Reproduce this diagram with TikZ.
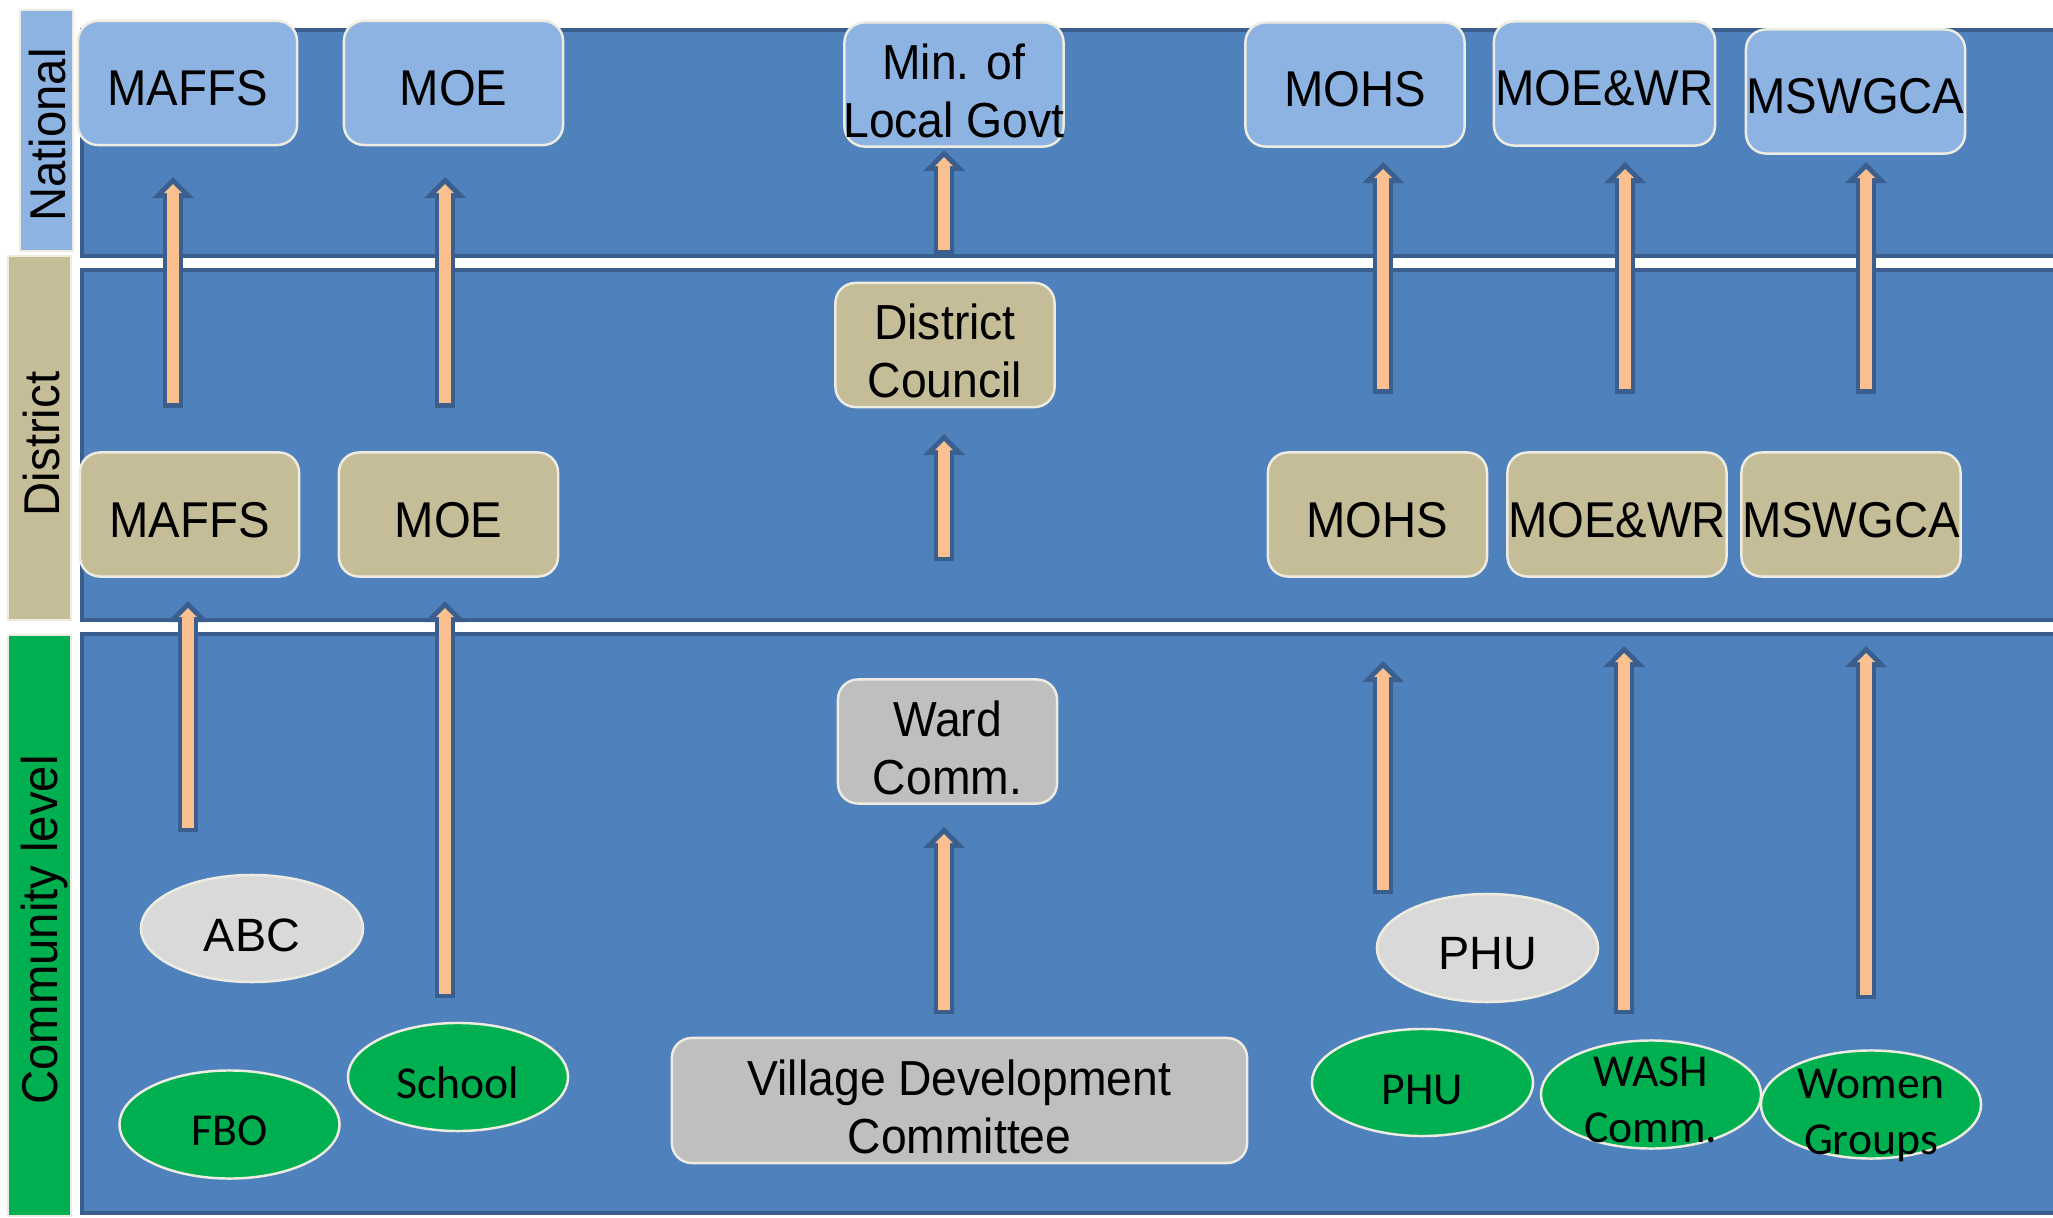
\documentclass[tikz,border=0pt]{standalone}
\usepackage{fontspec}
\setmainfont{Liberation Sans}
\newfontfamily\narrowarial{Liberation Sans}[FakeStretch=0.94]
\newfontfamily\calibri{Carlito}
\usetikzlibrary{arrows.meta,shapes.geometric,calc}
\definecolor{bandfill}{HTML}{4F81BD}
\definecolor{bandline}{HTML}{3A5F8E}
\definecolor{natfill}{HTML}{8DB3E2}
\definecolor{disfill}{HTML}{C4BD97}
\definecolor{boxgray}{HTML}{BFBFBF}
\definecolor{ellgray}{HTML}{D9D9D9}
\definecolor{grn}{HTML}{00B050}
\definecolor{peach}{HTML}{FAC090}
\definecolor{edgecol}{HTML}{EEECE1}
\newcommand\mkbox[7]{%
  \node[#1] (#2) at (#3,#4) {};
  \node[#6] (#2t) at ($(#2.center)+(0,#5)$) {#7};}
\newcommand\mkarrow[4]{%
  \coordinate (#1s) at (#2,#3);
  \coordinate (#1e) at (#2,#4);
  \draw[arrout] (#1s) -- (#1e);
  \draw[arrin] (#1s) -- (#1e);}
\begin{document}
\begin{tikzpicture}[x=0.01cm,y=-0.01cm,
  band/.style={fill=bandfill, draw=bandline, line width=1.2pt},
  strip/.style={draw=edgecol, line width=0.5pt},
  rbox/.style={rectangle, rounded corners=0.2cm, draw=edgecol, line width=0.7pt,
    minimum width=2.19cm, minimum height=1.24cm, inner sep=0pt},
  ell/.style={ellipse, draw=edgecol, line width=0.7pt,
    minimum width=2.2cm, minimum height=1.08cm, inner sep=0pt},
  atxt/.style={inner sep=0pt, align=center, font=\narrowarial\fontsize{14.3pt}{16.5pt}\selectfont},
  atxtb/.style={inner sep=0pt, align=center, font=\narrowarial\fontsize{14pt}{16.5pt}\selectfont},
  gtxt/.style={inner sep=0pt, align=center, font=\fontsize{13.3pt}{16pt}\selectfont},
  ctxt/.style={inner sep=0pt, align=center, font=\calibri\fontsize{13pt}{16pt}\selectfont},
  side/.style={inner sep=0pt, rotate=90, font=\narrowarial\fontsize{14.3pt}{16pt}\selectfont},
  arrout/.style={draw=bandline, line width=0.2cm,
    -{Triangle[width=0.42cm,length=0.21cm,line width=0pt]}},
  arrin/.style={draw=peach, line width=0.12cm, shorten <=0.045cm, shorten >=0.07cm,
    -{Triangle[width=0.18cm,length=0.09cm,line width=0pt]}}
]
\useasboundingbox (0,0) rectangle (2053,1218);
\clip (0,0) rectangle (2053,1218);
\fill[white] (0,0) rectangle (2053,1218);

% side strips
\draw[strip, fill=natfill] (20,10) rectangle (73,251);
\draw[strip, fill=disfill] (8,256) rectangle (71,620);
\draw[strip, fill=grn] (8,635) rectangle (71,1216);
\node[side] (lNat) at (48,135) {National};
\node[side] (lDis) at (42,444) {District};
\node[side] (lCom) at (44,930) {Community level};

% bands
\draw[band] (82,30) rectangle (2120,256);
\draw[band] (82,270) rectangle (2120,620);
\draw[band] (82,634) rectangle (2120,1213);

% arrows
\mkarrow{a1}{173}{408}{177}
\mkarrow{a2}{445}{408}{177}
\mkarrow{a3}{944}{255}{150}
\mkarrow{a4}{1383}{394}{162}
\mkarrow{a5}{1625}{394}{162}
\mkarrow{a6}{1866}{394}{162}
\mkarrow{a7}{944}{561}{434}
\mkarrow{a8}{188}{832}{601}
\mkarrow{a9}{445}{998}{601}
\mkarrow{a10}{944}{1014}{827}
\mkarrow{a11}{1383}{894}{661}
\mkarrow{a12}{1624}{1014}{646}
\mkarrow{a13}{1866}{999}{646}

% national row
\mkbox{rbox,fill=natfill}{nMAFFS}{187.5}{83}{5}{atxt}{MAFFS}
\mkbox{rbox,fill=natfill}{nMOE}{453.5}{83}{5}{atxt}{MOE}
\mkbox{rbox,fill=natfill}{nMLG}{954}{84.5}{6}{atxtb}{Min. of\\Local Govt}
\mkbox{rbox,fill=natfill}{nMOHS}{1355}{84.5}{5}{atxt}{MOHS}
\mkbox{rbox,fill=natfill,minimum width=2.21cm}{nMOEWR}{1604.5}{83.5}{5}{atxt}{MOE\&WR}
\mkbox{rbox,fill=natfill}{nMSW}{1855.5}{91.5}{5}{atxt}{MSWGCA}

% district row
\mkbox{rbox,fill=disfill}{dMAFFS}{189.5}{514.5}{6}{atxt}{MAFFS}
\mkbox{rbox,fill=disfill}{dMOE}{448.5}{514.5}{6}{atxt}{MOE}
\mkbox{rbox,fill=disfill}{dDC}{945}{345}{6}{atxtb}{District\\Council}
\mkbox{rbox,fill=disfill}{dMOHS}{1377.5}{514.5}{6}{atxt}{MOHS}
\mkbox{rbox,fill=disfill}{dMOEWR}{1617}{514.5}{6}{atxt}{MOE\&WR}
\mkbox{rbox,fill=disfill}{dMSW}{1851}{514.5}{6}{atxt}{MSWGCA}

% community row
\mkbox{rbox,fill=boxgray}{cWard}{947.5}{741.5}{6}{atxtb}{Ward\\Comm.}
\mkbox{rbox,fill=boxgray,minimum width=5.75cm,minimum height=1.25cm}{cVDC}{959.5}{1100.5}{6}{atxtb}{Village Development\\Committee}
\mkbox{ell,fill=ellgray,minimum width=2.22cm,minimum height=1.07cm}{cABC}{252}{928.5}{7}{gtxt}{ABC}
\mkbox{ell,fill=ellgray,minimum width=2.21cm}{cPHUg}{1487.5}{948}{6}{gtxt}{PHU}
\mkbox{ell,fill=grn}{cFBO}{229.5}{1124.5}{6}{ctxt}{FBO}
\mkbox{ell,fill=grn}{cSchool}{458}{1077}{6}{ctxt}{School}
\mkbox{ell,fill=grn,minimum width=2.21cm,minimum height=1.07cm}{cPHU}{1422.5}{1082.5}{7}{ctxt}{PHU}
\mkbox{ell,fill=grn}{cWASH}{1651}{1094.5}{5}{ctxt}{WASH\\Comm.}
\mkbox{ell,fill=grn}{cWomen}{1871}{1104.5}{11}{ctxt}{Women\\Groups}
\end{tikzpicture}
\end{document}
